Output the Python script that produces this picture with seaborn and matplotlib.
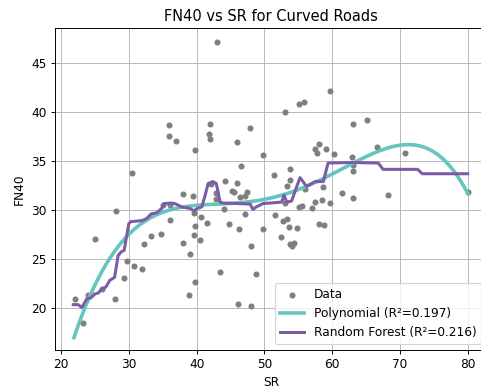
import numpy as np
import pandas as pd
import matplotlib
matplotlib.use("Agg")
import matplotlib.pyplot as plt
import seaborn as sns

# Observed SR / FN40 pairs for curved road sections
sr = [22.1, 23.2, 23.9, 25.0, 26.1, 28.0, 28.1, 29.3, 29.7, 30.4, 30.7, 32.0, 32.2,
      33.3, 34.7, 35.1, 36.0, 36.0, 35.9, 35.9, 36.9, 38.0, 38.0, 39.0, 38.9, 39.8,
      39.8, 39.4, 39.6, 39.6, 39.8, 40.5, 40.6, 41.5, 42.0, 41.8, 41.9, 43.0, 42.1,
      42.8, 42.9, 43.4, 44.0, 44.15, 44.8, 45.2, 45.5, 45.9, 45.9, 46.1, 46.3, 46.4,
      46.6, 47.15, 47.2, 47.5, 47.9, 48.0, 48.0, 48.8, 49.75, 49.8, 51.4, 51.6, 52.5,
      52.7, 53.05, 53.1, 53.3, 53.4, 53.6, 53.8, 53.8, 53.8, 54.3, 54.0, 54.8, 55.1,
      55.1, 55.6, 55.8, 56.0, 57.0, 57.4, 57.5, 57.8, 58.05, 58.1, 58.5, 58.7, 58.8,
      59.1, 59.7, 59.7, 60.3, 61.5, 62.9, 63.0, 63.0, 63.0, 63.0, 65.2, 66.6, 68.3,
      70.7, 80.0]
fn40 = [20.9, 18.4, 21.3, 27.0, 21.9, 20.9, 29.9, 23.0, 24.8, 33.8, 24.3, 24.0, 26.5,
        27.3, 27.5, 30.5, 30.5, 29.0, 38.7, 37.6, 37.1, 31.6, 26.6, 25.5, 21.3, 22.6,
        36.1, 31.4, 29.7, 27.4, 28.4, 26.9, 29.3, 28.7, 38.75, 37.8, 37.25, 47.2, 32.65,
        31.7, 31.1, 23.6, 30.1, 33.0, 28.6, 31.9, 31.8, 32.8, 37.0, 20.4, 28.0, 31.35,
        34.5, 31.4, 29.55, 31.8, 38.4, 26.3, 20.2, 23.45, 28.05, 35.65, 33.6, 29.5, 27.25,
        28.9, 40.0, 30.7, 32.4, 29.1, 28.2, 34.2, 33.1, 26.5, 26.6, 26.3, 28.1, 30.25,
        40.8, 30.4, 41.0, 32.1, 30.15, 36.2, 30.8, 35.8, 36.75, 28.6, 31.0, 32.3, 28.5,
        36.2, 30.7, 42.2, 35.7, 31.7, 35.4, 38.8, 34.6, 34.0, 31.2, 39.2, 36.4, 31.55,
        35.8, 31.8]

# Polynomial model predictions at sample SR values
poly_sr = [21.9, 24.0, 26.5, 28.95, 31.4, 33.9, 36.3, 39.8, 43.5, 47.0, 50.3,
           55.25, 57.7, 61.15, 64.1, 67.05, 71.0, 73.9, 76.9, 80.0]
poly_fn40 = [17.3, 20.1, 24.5, 26.75, 28.3, 29.5, 30.15, 30.5, 30.6, 30.65, 31.2,
             32.0, 32.7, 34.2, 35.3, 36.2, 36.75, 36.2, 34.6, 31.85]

# Random forest prediction curve
rf_sr = [21.8, 22.55, 23.05, 23.8, 24.4, 25.0, 25.5, 26.0, 26.6, 27.2, 27.9, 28.4,
         28.85, 29.3, 30.0, 30.3, 31.9, 32.6, 33.3, 34.1, 34.85, 35.2, 36.1, 36.8,
         37.8, 39.0, 39.6, 40.1, 40.75, 41.2, 41.7, 42.4, 42.9, 43.2, 43.45, 43.9,
         45.9, 47.9, 48.3, 48.8, 49.8, 50.8, 52.55, 52.9, 53.3, 54.0, 55.25, 55.7,
         56.2, 57.5, 58.7, 59.0, 59.4, 62.9, 66.8, 67.5, 72.6, 73.3, 80.0]
rf_fn40 = [20.3, 20.3, 20.0, 20.9, 21.0, 21.4, 21.5, 21.9, 22.1, 22.8, 23.1, 25.3,
           25.7, 25.85, 28.6, 28.8, 28.9, 29.1, 29.6, 29.7, 30.15, 30.65, 30.7, 30.65,
           30.3, 30.15, 29.9, 30.15, 30.3, 31.35, 32.7, 32.9, 32.7, 31.7, 30.8, 30.7,
           30.65, 30.6, 30.05, 30.3, 30.65, 30.7, 30.8, 31.5, 30.8, 30.9, 33.3, 32.9,
           32.4, 32.9, 32.9, 33.75, 34.8, 34.85, 34.8, 34.15, 34.15, 33.7, 33.7]

poly_r2 = 0.197
rf_r2 = 0.216

points = pd.DataFrame({"SR": sr, "FN40": fn40})

# Smooth polynomial curve through the model's predictions
coef = np.polyfit(poly_sr, poly_fn40, 5)
grid = np.linspace(min(poly_sr), max(poly_sr), 300)
poly = pd.DataFrame({"SR": grid, "FN40": np.polyval(coef, grid)})
forest = pd.DataFrame({"SR": rf_sr, "FN40": rf_fn40})

dpi = 87.5
fig = plt.figure(figsize=(481 / dpi, 391 / dpi), dpi=dpi)
ax = fig.add_axes([0.1143, 0.1049, 0.899, 0.8235])
ax.set_axisbelow(True)
ax.grid(True, color="#b8b8b8", linewidth=0.8)

sns.scatterplot(data=points, x="SR", y="FN40", ax=ax, color="#7f7f7f", s=25,
                linewidth=0, label="Data", zorder=2)
sns.lineplot(data=poly, x="SR", y="FN40", ax=ax, color="#66c5bf", linewidth=3,
             sort=False, estimator=None, label=f"Polynomial (R²={poly_r2:.3f})", zorder=3)
sns.lineplot(data=forest, x="SR", y="FN40", ax=ax, color="#7b5ca7", linewidth=2.5,
             sort=False, estimator=None, label=f"Random Forest (R²={rf_r2:.3f})", zorder=4)

ax.set_xlim(19.1, 82.9)
ax.set_ylim(15.66, 48.62)
ax.set_xticks([20, 30, 40, 50, 60, 70, 80])
ax.set_yticks([20, 25, 30, 35, 40, 45])
ax.set_title("FN40 vs SR for Curved Roads", fontsize=12)
ax.set_xlabel("SR")
ax.set_ylabel("FN40")
ax.legend(loc="lower right", fontsize=10)

fig.savefig("out.png", dpi=dpi)
